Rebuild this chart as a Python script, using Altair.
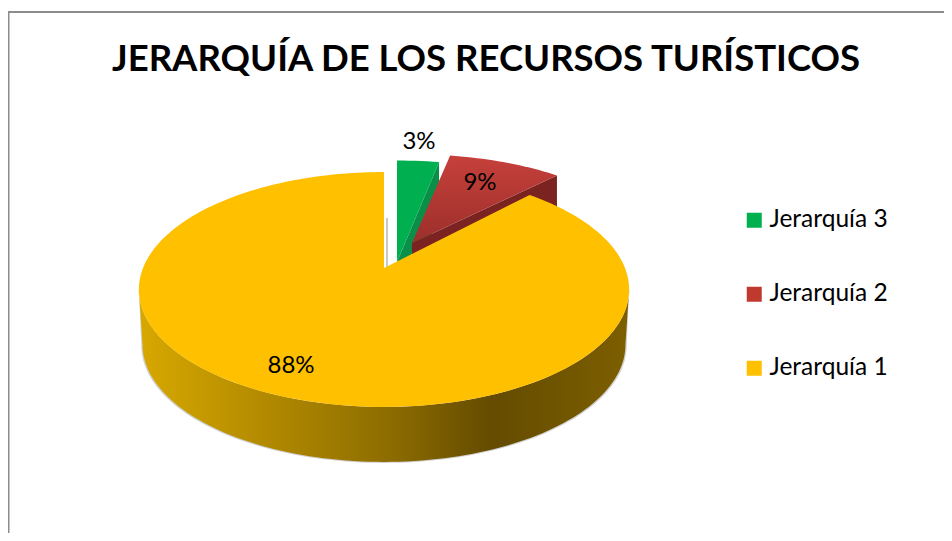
import math
import altair as alt
import pandas as pd

categories = ["Jerarquía 3", "Jerarquía 2", "Jerarquía 1"]
shares = [3, 9, 88]
colors = ["#00b050", "#c0392f", "#ffc000"]
title_text = "JERARQUÍA DE LOS RECURSOS TURÍSTICOS"

C = 0.183
DEPTH = 55
# apex x, apex y, horizontal scale, vertical scale of each exploded slice
GEOM = {
    "Jerarquía 3": (397, 262, 265, 120),
    "Jerarquía 2": (412, 243, 240, 105),
    "Jerarquía 1": (384, 268, 241, 113.5),
}


def rim(name, deg, dy=0, shrink=1.0):
    ax, ay, sx, sy = GEOM[name]
    t = math.radians(deg)
    d = 1 + C * math.cos(t)
    return ax + shrink * sx * math.sin(t) / d, ay - sy * math.cos(t) / d + dy


def arc(name, a0, a1, dy=0, shrink=1.0):
    n = max(2, int(abs(a1 - a0) / 1.5))
    return [rim(name, a0 + (a1 - a0) * k / n, dy, shrink) for k in range(n + 1)]


def frame(pts):
    return pd.DataFrame([{"x": p[0], "y": p[1], "i": k} for k, p in enumerate(pts)])


X = alt.Scale(domain=[8, 944], range=[0, 936])
Y = alt.Scale(domain=[533, 8], range=[525, 0])
nox = alt.X("x:Q", scale=X, axis=None)
noy = alt.Y("y:Q", scale=Y, axis=None)


def poly(pts, fill):
    return alt.Chart(frame(pts)).mark_line(fill=fill, strokeWidth=0, clip=False).encode(
        x=nox, y=noy, order=alt.Order("i:Q")
    )


def grad(stops, horizontal=True):
    return alt.Gradient(
        gradient="linear",
        x1=0, y1=0,
        x2=1 if horizontal else 0, y2=0 if horizontal else 1,
        stops=[alt.GradientStop(offset=o, color=c) for o, c in stops],
    )


# slice angles, clockwise from the top
angles = {}
start = 0.0
for cat, v in zip(categories, shares):
    angles[cat] = (start, start + v * 3.6)
    start += v * 3.6

layers = []
g3, g2, g1 = categories

# green
a0, a1 = angles[g3]
ax, ay, _, _ = GEOM[g3]
e = rim(g3, a1)
layers.append(poly([(ax, ay), e, (e[0], e[1] + DEPTH), (ax, ay + DEPTH)], "#0a8f48"))
layers.append(poly([(ax, ay)] + arc(g3, a0, a1), colors[0]))

# red
a0, a1 = angles[g2]
ax, ay, _, _ = GEOM[g2]
e = rim(g2, a1)
layers.append(poly([(ax, ay), e, (e[0], e[1] + DEPTH), (ax, ay + DEPTH)], "#7a2320"))
layers.append(poly([(ax, ay)] + arc(g2, a0, a1),
                   grad([(0, "#c6403b"), (1, "#9c2f2b")], horizontal=False)))

# yellow wall, soft shadow first, then top
a0, a1 = angles[g1]
ax, ay, _, _ = GEOM[g1]
front = arc(g1, 100.5, 259.5)
low = arc(g1, 259.5, 100.5, DEPTH, 0.985)
shadow = arc(g1, 259.5, 100.5, DEPTH + 1, 0.99)
layers.append(poly(front + shadow, "#d0d0d0"))
layers.append(poly(front + low, grad([(0, "#d8a800"), (0.5, "#8f6e00"), (0.72, "#644b00"), (1, "#7d5f00")])))
# grey edge of the yellow slice's cut face, in the gap at the top
layers.append(poly([(ax + 2, 218), (ax + 4, 218), (ax + 4, 268), (ax + 2, 268)], "#c8c8c8"))
layers.append(poly([(ax, ay)] + arc(g1, a0, a1), colors[2]))

# frame
layers.append(alt.Chart(pd.DataFrame({"a": [0]})).mark_rule(color="#8c8c8c", strokeWidth=2).encode(
    x=alt.value(0), x2=alt.value(936), y=alt.value(4)))
layers.append(alt.Chart(pd.DataFrame({"a": [0]})).mark_rule(color="#8c8c8c", strokeWidth=2).encode(
    x=alt.value(0.5), y=alt.value(3), y2=alt.value(525)))

# labels
lab = pd.DataFrame({
    "x": [419, 480, 291],
    "y": [142, 183, 366],
    "t": [f"{v}%" for v in shares],
})
layers.append(alt.Chart(lab).mark_text(font="Lato", fontSize=24, color="#000000", align="center", baseline="middle").encode(
    x=nox, y=noy, text="t:N"))

# title
layers.append(alt.Chart(pd.DataFrame({"x": [486], "y": [60], "t": [title_text]})).mark_text(
    font="Lato", fontSize=36.5, fontWeight="bold", color="#000000", align="center", baseline="middle"
).encode(x=nox, y=noy, text="t:N"))

# legend
leg = pd.DataFrame({"c": categories, "x": [8.0] * 3, "y": [8.0] * 3})
layers.append(alt.Chart(leg).mark_square(opacity=0).encode(
    x=nox, y=noy,
    color=alt.Color("c:N",
        scale=alt.Scale(domain=categories, range=colors),
        sort=categories,
        legend=alt.Legend(
            title=None, orient="none", legendX=734, legendY=200,
            symbolType="square", symbolSize=225, symbolOpacity=1, symbolStrokeWidth=0,
            labelFont="Lato", labelFontSize=24.5, labelColor="#000000",
            rowPadding=49, labelOffset=3,
        )),
))

chart = alt.layer(*layers).properties(
    width=936, height=525, padding=0,
    autosize=alt.AutoSizeParams(type="none"),
    background="#ffffff",
).configure_view(strokeWidth=0)

chart.save("out.html", embed_options={"renderer": "svg", "actions": False})
